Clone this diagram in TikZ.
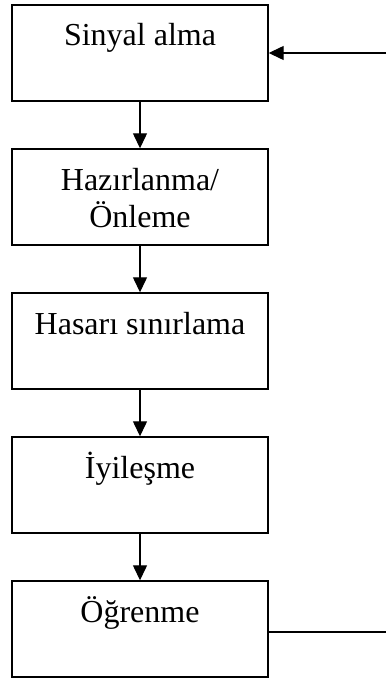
\documentclass[tikz,border=0pt]{standalone}
\usepackage{fontspec}
\setmainfont{Liberation Serif}
\usetikzlibrary{arrows.meta}
\tikzstyle{asama} = [rectangle, draw=black, line width=1.4pt, minimum height=96pt, minimum width=256pt, inner sep=0pt, text height=41pt, text depth=55pt, align=center, font=\fontsize{32}{37}\selectfont]
\tikzstyle{ok} = [line width=1.3pt, -{Triangle[length=15pt,width=14pt]}]

\begin{document}
\begin{tikzpicture}[x=1pt,y=1pt]
        \useasboundingbox (0,0) rectangle (386,-679);

        \node (s1) [asama] at (140,-53)  {Sinyal alma};
        \node (s2) [asama, text height=78pt, text depth=18pt] at (140,-197) {Hazırlanma/\\Önleme};
        \node (s3) [asama] at (140,-341) {Hasarı sınırlama};
        \node (s4) [asama] at (140,-485) {İyileşme};
        \node (s5) [asama] at (140,-629) {Öğrenme};

        \coordinate (g) at (386,-53);
        \coordinate (c) at (386,-632);

        \draw[ok] (s1) -- (s2);
        \draw[ok] (s2) -- (s3);
        \draw[ok] (s3) -- (s4);
        \draw[ok] (s4) -- (s5);
        \draw[ok] (g) -- (s1.east);
        \draw[line width=1.3pt] (s5.east |- c) -- (c);
    \end{tikzpicture}
\end{document}
